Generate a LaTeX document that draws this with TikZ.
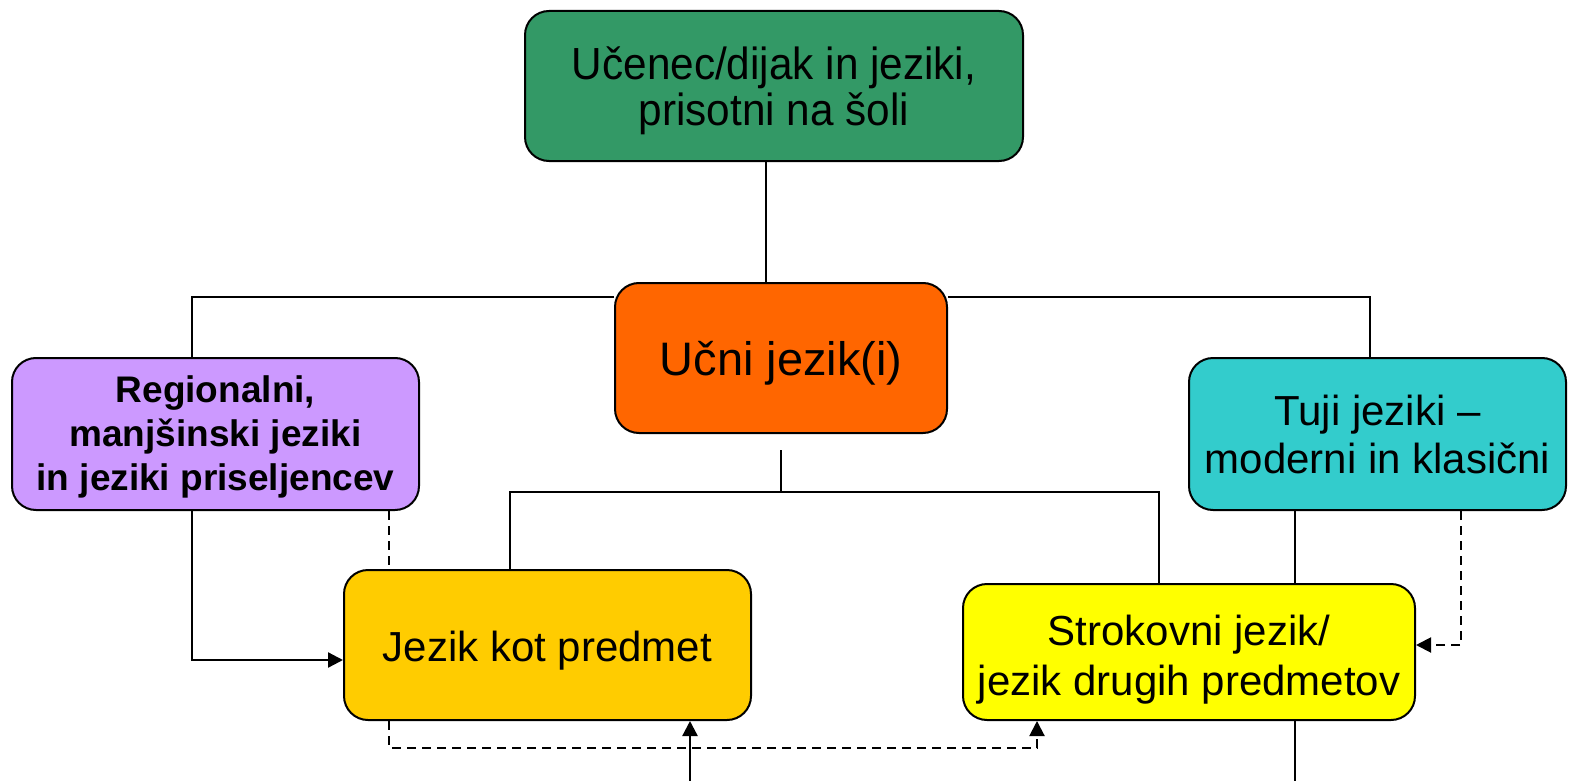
\documentclass[tikz,border=0pt]{standalone}
\usepackage{fontspec}
\setmainfont{Liberation Sans}
\newfontfamily\greenfont[FakeStretch=0.94]{Liberation Sans}
\usetikzlibrary{arrows.meta,backgrounds}
\definecolor{cgreen}{HTML}{339966}
\definecolor{corange}{HTML}{FF6600}
\definecolor{cpurple}{HTML}{CC99FF}
\definecolor{cteal}{HTML}{33CCCC}
\definecolor{cgold}{HTML}{FFCC00}
\definecolor{cyellow}{HTML}{FFFF00}
\newcommand\mytop[1]{\rule{0pt}{#1pt}}
\newcommand\mybot[1]{\rule[-#1pt]{0pt}{#1pt}}
\tikzset{
  box/.style={draw=black, line width=2pt, rounded corners=24pt, align=center, inner sep=0pt,
    font=\fontsize{42}{48}\selectfont},
  conn/.style={line width=1.8pt},
  arr/.style={line width=2.3pt, -{Triangle[length=15pt,width=15pt]}},
  darr/.style={line width=2pt, dash pattern=on 9pt off 6pt, -{Triangle[length=15pt,width=15pt]}},
  dline/.style={line width=2pt, dash pattern=on 9pt off 6pt}
}
\begin{document}
\begin{tikzpicture}[x=1pt,y=-1pt]
\useasboundingbox (0,0) rectangle (1571,781);
\node[box, fill=cgreen, minimum width=498pt, minimum height=150pt, font=\greenfont\fontsize{45}{45}\selectfont] (g) at (774,86) {\mytop{45}Učenec/dijak in jeziki,\\prisotni na šoli\mybot{12}};
\node[box, fill=corange, minimum width=332pt, minimum height=150pt, font=\fontsize{47}{56}\selectfont] (o) at (781,358) {\mytop{46}Učni jezik(i)\mybot{12}};
\node[box, fill=cpurple, minimum width=407pt, minimum height=152pt, font=\fontsize{37}{44}\selectfont\bfseries] (p) at (215.5,434) {\mytop{34}Regionalni,\\manjšinski jeziki\\in jeziki priseljencev\mybot{10}};
\node[box, fill=cteal, minimum width=377pt, minimum height=152pt] (t) at (1377.5,434) {\mytop{43.4}Tuji jeziki –\\moderni in klasični\mybot{12}};
\node[box, fill=cgold, minimum width=407pt, minimum height=150pt] (k) at (547.5,645) {\mytop{44}Jezik kot predmet\mybot{12}};
\node[box, fill=cyellow, minimum width=452pt, minimum height=136pt, font=\fontsize{42}{50}\selectfont] (s) at (1189,652) {\mytop{48}Strokovni jezik/\\jezik drugih predmetov\mybot{12}};

\coordinate (c1) at (192,297);
\coordinate (c2) at (1370,297);
\coordinate (c3) at (781,450);
\coordinate (c4) at (781,492);
\coordinate (c5) at (510,492);
\coordinate (c6) at (1159,492);
\coordinate (c7) at (192,660);
\coordinate (c8) at (389,600);
\coordinate (c9) at (389,748);
\coordinate (c10) at (1037,748);
\coordinate (c11) at (1295,781);
\coordinate (c12) at (1461,645);
\coordinate (c13) at (690,781);
\coordinate (c14) at (766,200);

\begin{scope}[on background layer]
\draw[conn] (c14 |- g.south) -- (c14 |- o.north);
\draw[conn] (o.west |- c1) -- (c1) -- (c1 |- p.north);
\draw[conn] (o.east |- c2) -- (c2) -- (c2 |- t.north);
\draw[conn] (c3) -- (c4);
\draw[conn] (c5 |- k.north) -- (c5) -- (c6) -- (c6 |- s.north);
\draw[conn] (c11 |- t.south) -- (c11 |- s.north);
\draw[conn] (c11 |- s.south) -- (c11);
\draw[dline] (c8 |- p.south) -- (c8 |- k.north);
\end{scope}
\draw[arr] (c7 |- p.south) -- (c7) -- (c7 -| k.west);
\draw[darr] (c9 |- k.south) -- (c9) -- (c10) -- (c10 |- s.south);
\draw[darr] (c12 |- t.south) -- (c12) -- (c12 -| s.east);
\draw[arr] (c13) -- (c13 |- k.south);
\end{tikzpicture}
\end{document}
